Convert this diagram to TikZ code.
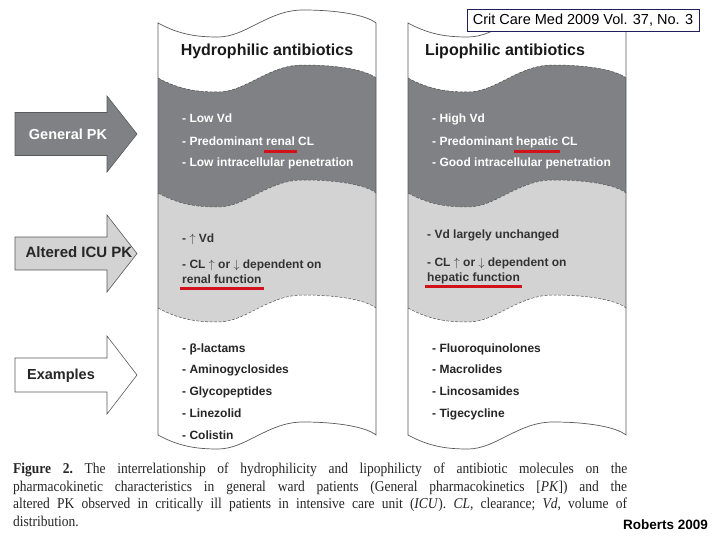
\documentclass[tikz,border=0pt]{standalone}
\usepackage{fontspec}
\setmainfont{Liberation Serif}[FakeStretch=0.9]
\newfontfamily\arialfont{Liberation Sans}
\usepackage{tikz}
\usetikzlibrary{positioning}

\definecolor{pkdark}{HTML}{808184}
\definecolor{pklight}{HTML}{D3D3D4}
\definecolor{ulred}{HTML}{D2121B}
\definecolor{edge}{HTML}{58595B}
\definecolor{navy}{HTML}{1F1F5F}

% wavy band edge, left to right and back
\newcommand{\wavefwd}[1]{(0,#1) .. controls (22,{#1+12}) and (40,{#1+14}) .. (60,{#1+14}) .. controls (88,{#1+14}) and (110,{#1-13}) .. (145,{#1-13}) .. controls (180,{#1-13}) and (208,{#1-8}) .. (218,#1)}
\newcommand{\waveback}[1]{(218,#1) .. controls (208,{#1-8}) and (180,{#1-13}) .. (145,{#1-13}) .. controls (110,{#1-13}) and (88,{#1+14}) .. (60,{#1+14}) .. controls (40,{#1+14}) and (22,{#1+12}) .. (0,#1)}
\newcommand{\redul}[1]{\setbox0\hbox{#1}\rlap{\hspace{-2pt}\color{ulred}\rule[-7pt]{\dimexpr\wd0+4pt\relax}{3pt}}#1}
\newcommand{\up}{\ensuremath{\uparrow}}
\newcommand{\down}{\ensuremath{\downarrow}}

\begin{document}
\begin{tikzpicture}[
        x=1pt, y=-1pt,
        item/.style={font=\arialfont\bfseries\fontsize{12}{14}\selectfont, anchor=base west, inner sep=0pt},
        coltitle/.style={font=\arialfont\bfseries\fontsize{16}{19}\selectfont, text=black!90, anchor=base, inner sep=0pt},
        pklabel/.style={font=\arialfont\bfseries\fontsize{14.5}{17}\selectfont, anchor=base, inner sep=0pt},
        pkarrow/.style={draw=edge, line width=0.6pt},
        band/.style={draw=black!70, line width=0.5pt, dash pattern=on 3pt off 1.5pt}
    ]
    \fill[white] (0,0) rectangle (720,540);
    \useasboundingbox (0,0) rectangle (720,540);

    % the two columns
    \foreach \cx in {158,408}{
        \begin{scope}[shift={(\cx,0)}]
            \fill[white] \wavefwd{23} -- \waveback{78} -- cycle;
            \fill[pkdark] \wavefwd{78} -- \waveback{193} -- cycle;
            \fill[pklight] \wavefwd{193} -- \waveback{308} -- cycle;
            \fill[white] \wavefwd{308} -- \waveback{435} -- cycle;
            \draw[band] \wavefwd{78};
            \draw[band] \wavefwd{193};
            \draw[band] \wavefwd{308};
            \draw[edge, line width=0.7pt] \wavefwd{23} -- \waveback{435} -- cycle;
        \end{scope}
    }

    % block arrows on the left
    \foreach \cy/\bh/\hh/\col in {134/21.5/38/pkdark, 253.5/16.5/38.5/pklight, 375/17/39/white}
        \draw[pkarrow, fill=\col] (15,{\cy-\bh}) -- (107,{\cy-\bh}) -- (107,{\cy-\hh}) -- (137,\cy)
            -- (107,{\cy+\hh}) -- (107,{\cy+\bh}) -- (15,{\cy+\bh}) -- cycle;
    \node[pklabel, text=white] (genpk) at (68,140) {General PK};
    \node[pklabel, text=black!85, font=\arialfont\bfseries\fontsize{15}{17}\selectfont] (icupk) at (79,258) {Altered ICU PK};
    \node[pklabel, text=black!85] (expk) at (61,379) {Examples};

    \node[coltitle] (hydtitle) at (267,56) {Hydrophilic antibiotics};
    \node[coltitle] (liptitle) at (505,56) {Lipophilic antibiotics};

    % general PK
    \node[item, text=white] (hydvd) at (182,123) {- Low Vd};
    \node[item, text=white] (hydcl) at ([yshift=-23pt]hydvd.base west) {- Predominant \redul{renal} CL};
    \node[item, text=white] (hydpen) at ([yshift=-21pt]hydcl.base west) {- Low intracellular penetration};
    \node[item, text=white] (lipvd) at (432,123) {- High Vd};
    \node[item, text=white] (lipcl) at ([yshift=-23pt]lipvd.base west) {- Predominant \redul{hepatic} CL};
    \node[item, text=white] (lippen) at ([yshift=-21pt]lipcl.base west) {- Good intracellular penetration};

    % altered ICU PK
    \node[item, text=black!80] (hydicuvd) at (182,243) {- \up\ Vd};
    \node[item, text=black!80] (hydicucl) at ([yshift=-25pt]hydicuvd.base west) {- CL \up\ or \down\ dependent on};
    \node[item, text=black!80] (hydicufn) at ([yshift=-15pt]hydicucl.base west) {\redul{renal function}};
    \node[item, text=black!80] (lipicuvd) at (427,239) {- Vd largely unchanged};
    \node[item, text=black!80] (lipicucl) at ([yshift=-27pt]lipicuvd.base west) {- CL \up\ or \down\ dependent on};
    \node[item, text=black!80] (lipicufn) at ([yshift=-15pt]lipicucl.base west) {\redul{hepatic function}};

    % examples
    \foreach \drug [count=\i] in {β-lactams, Aminogyclosides, Glycopeptides, Linezolid, Colistin}
        \node[item, text=black!85] (hydex\i) at (182,{352+21.75*(\i-1)}) {- \drug};
    \foreach \drug [count=\i] in {Fluoroquinolones, Macrolides, Lincosamides, Tigecycline}
        \node[item, text=black!85] (lipex\i) at (432,{352+21.75*(\i-1)}) {- \drug};

    \node[draw=navy, line width=0.8pt, fill=white, minimum width=232pt, minimum height=22pt, inner sep=0pt,
        font=\arialfont\fontsize{14.5}{17}\selectfont] (journal) at (583,20) {Crit Care Med 2009 Vol. 37, No. 3};

    \node[anchor=north west, inner sep=0pt, text width=614pt, align=justify,
        font=\fontsize{15}{17.5}\selectfont\frenchspacing, text=black!85] (caption) at (13,463)
        {\textbf{Figure 2.} The interrelationship of hydrophilicity and lipophilicty of antibiotic molecules on the\linebreak
        pharmacokinetic characteristics in general ward patients (General pharmacokinetics [\textit{PK}]) and the\linebreak
        altered PK observed in critically ill patients in intensive care unit (\textit{ICU}). \textit{CL}, clearance; \textit{Vd}, volume of\linebreak
        distribution.};
    \node[anchor=base east, inner sep=0pt, font=\arialfont\bfseries\fontsize{13.5}{16}\selectfont] (source) at (708,529) {Roberts 2009};
\end{tikzpicture}
\end{document}
